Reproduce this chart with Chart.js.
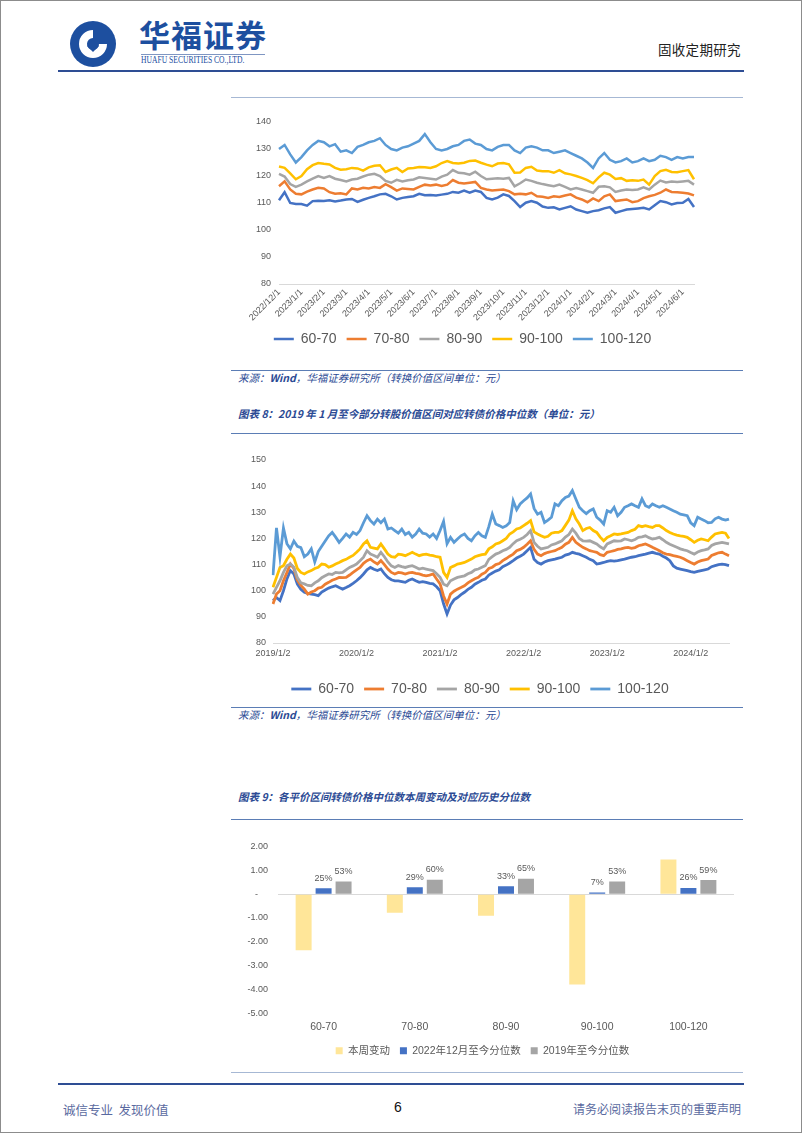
<!DOCTYPE html>
<html>
<head>
<meta charset="utf-8">
<script src="https://cdn.jsdelivr.net/npm/chart.js@4.4.0/dist/chart.umd.min.js"></script>
<style>
  body { margin: 0; background: #fff; }
  #page { position: relative; width: 802px; height: 1133px; border: 1px solid #8c8c8c; box-sizing: border-box; overflow: hidden; font-family: "Noto Sans CJK SC", "Liberation Sans", sans-serif; }
  .abs { position: absolute; }
  .hline { position: absolute; height: 0; }
  .src { position: absolute; left: 237px; font-size: 10.5px; line-height: 12px; font-style: italic; color: #2b4a94; white-space: nowrap; }
  .ttl { position: absolute; left: 237px; font-size: 10.5px; line-height: 12px; font-style: italic; font-weight: bold; color: #2b4a94; white-space: nowrap; }
  canvas { position: absolute; }
</style>
</head>
<body>
<div id="page">
  <!-- header -->
  <svg class="abs" style="left:68px;top:19px" width="48" height="48" viewBox="0 0 48 48">
    <circle cx="24" cy="24" r="23" fill="#1d4f9f"/>
    <path d="M24 10 A14 14 0 1 0 38 24 L30 24 A6 6 0 1 1 24 18 Z" fill="#fff"/>
    <path d="M24 20 L30 26 L24 32 L18 26 Z" fill="#1d4f9f"/>
  </svg>
  <div class="abs" style="left:138px;top:14px;font-size:31px;font-weight:bold;color:#1d4f9f;letter-spacing:1px;line-height:38px">华福证券</div>
  <div class="hline" style="left:140px;top:53px;width:124px;border-top:1px solid #7f96c2"></div>
  <div class="abs" style="left:140px;top:54px;font-family:'Liberation Serif',serif;font-size:9.5px;color:#1d4f9f;white-space:nowrap;transform:scaleX(0.8);transform-origin:left top">HUAFU SECURITIES CO.,LTD.</div>
  <div class="abs" style="left:657px;top:38px;font-size:13.5px;color:#222;letter-spacing:0.3px">固收定期研究</div>
  <div class="hline" style="left:57px;top:69px;width:686px;border-top:2px solid #2e4d94"></div>

  <div class="hline" style="left:230px;top:96px;width:512px;border-top:1px solid #a6b8d4"></div>

  <canvas id="chart1" class="abs" style="left:230px;top:100px" width="480" height="255"></canvas>
  <div class="hline" style="left:230px;top:369px;width:512px;border-top:1.5px solid #5b7db5"></div>
  <div class="src" style="top:371px">来源：<b>Wind</b>，华福证券研究所（转换价值区间单位：元）</div>

  <div class="ttl" style="top:407px">图表 8：2019 年 1 月至今部分转股价值区间对应转债价格中位数（单位：元）</div>
  <div class="hline" style="left:230px;top:432px;width:512px;border-top:1.5px solid #5b7db5"></div>
  <canvas id="chart2" class="abs" style="left:230px;top:440px" width="510" height="265"></canvas>
  <div class="hline" style="left:230px;top:706px;width:512px;border-top:1.5px solid #5b7db5"></div>
  <div class="src" style="top:708px">来源：<b>Wind</b>，华福证券研究所（转换价值区间单位：元）</div>

  <div class="ttl" style="top:790px">图表 9：各平价区间转债价格中位数本周变动及对应历史分位数</div>
  <div class="hline" style="left:230px;top:818px;width:512px;border-top:1.5px solid #5b7db5"></div>
  <canvas id="chart3" class="abs" style="left:230px;top:830px" width="512" height="235"></canvas>

  <!-- footer -->
  <div class="hline" style="left:230px;top:1071px;width:512px;border-top:1px solid #a6b8d4"></div>
  <div class="hline" style="left:57px;top:1082px;width:686px;border-top:2px solid #2e4d94"></div>
  <div class="abs" style="left:62px;top:1099px;font-size:12.5px;color:#5a6aa0;white-space:nowrap">诚信专业&nbsp;&nbsp;发现价值</div>
  <div class="abs" style="left:393px;top:1098px;font-family:'Liberation Sans',sans-serif;font-size:14px;color:#111">6</div>
  <div class="abs" style="right:60px;top:1099px;font-size:12px;color:#5a6aa0;white-space:nowrap">请务必阅读报告末页的重要声明</div>
</div>

<script>
// Chart 1: 2022/12 to date, weekly readings
const months1 = ['2022/12/1', '2023/1/1', '2023/2/1', '2023/3/1', '2023/4/1', '2023/5/1', '2023/6/1',
  '2023/7/1', '2023/8/1', '2023/9/1', '2023/10/1', '2023/11/1', '2023/12/1', '2024/1/1', '2024/2/1',
  '2024/3/1', '2024/4/1', '2024/5/1', '2024/6/1'];

const c1_60_70 = [111, 114, 110, 109.6, 109.6, 109, 110.7, 110.8, 110.7, 111, 110.6, 110.9,
  111.3, 111.5, 110.4, 111.2, 111.9, 112.5, 113.2, 113.4, 112.5, 111.3, 111.9, 112.2,
  112.5, 113.4, 112.9, 113, 112.8, 113.1, 113.4, 114.1, 113.8, 114.6, 113.8, 114.6,
  114.1, 111.9, 111.3, 112, 113.2, 112.6, 110.7, 108.5, 110.1, 110.7, 110.1, 108.7,
  108.2, 108.4, 107.6, 108.2, 108.8, 107.6, 107, 106.4, 107, 107.3, 108, 108.5,
  106.4, 107, 107.6, 107.8, 108, 108.2, 107.6, 109.2, 110.7, 110.3, 109.5, 110,
  110.1, 111.5, 108.5];
const c1_70_80 = [116.2, 118, 115, 113.4, 113.2, 114.2, 115, 115.6, 115.4, 114, 113.4, 113.6,
  113.2, 115.4, 115, 115.6, 115.4, 115.9, 115.6, 117, 115.9, 114.6, 115.4, 115.2,
  115, 116, 116.8, 116.5, 116.8, 116.3, 116.8, 118.5, 117.5, 117.2, 117.5, 117.8,
  115.6, 115, 114.6, 114.8, 115, 114.4, 113.2, 113.4, 113.2, 113.8, 112.5, 112.3,
  111.9, 112.5, 112.2, 112.8, 113.2, 112, 111.3, 110.3, 111.7, 110.7, 112.5, 113.2,
  110.7, 111, 111.3, 110.3, 110.7, 111.8, 112.5, 113, 113.8, 115, 114.1, 114,
  113.8, 113.5, 112.8];
const c1_80_90 = [120.8, 119.8, 117, 116, 116.8, 118, 119, 120, 119.3, 120, 119, 118.5,
  118, 118.7, 119, 119.8, 120.5, 120.8, 120, 118.2, 117.5, 118.6, 118, 118.4,
  118.7, 119.5, 119.3, 119, 118.7, 119.8, 120.5, 122.2, 121.2, 121, 120.5, 121.6,
  120, 118.8, 119, 119.2, 119, 119.3, 116.2, 117.3, 118.7, 118.2, 117.5, 117,
  116.6, 116.2, 116.8, 116, 115, 115.5, 115, 114.4, 113.8, 116, 116.2, 115.8,
  114.1, 114.6, 115, 114.8, 115, 115.8, 115, 116.8, 118.3, 117.6, 118, 117.8,
  118, 118.2, 116.8];
const c1_90_100 = [123.5, 123, 121, 118.8, 120, 122.5, 124, 124.8, 124.5, 124.3, 123, 122.3,
  122.5, 123, 122.8, 122, 123.2, 123.8, 124, 121.5, 122.4, 123, 121.5, 122.8,
  123, 123.3, 123.2, 123, 123.6, 124.8, 125.5, 124.8, 124.6, 124.9, 125.6, 125.7,
  124.9, 124.2, 123.6, 124.6, 124.8, 124.3, 121.2, 121.3, 123, 123.4, 122, 121.8,
  121.8, 121.2, 122.2, 121, 120.6, 120, 119.3, 118.5, 117.3, 119.5, 121.2, 120.5,
  118.9, 119.2, 118.2, 118.4, 118.2, 118.7, 116.8, 120, 121.8, 122.3, 121.5, 121.4,
  121.8, 122.2, 118.8];
const c1_100_120 = [130, 131.5, 128, 125, 127, 129.5, 131.5, 133, 132.5, 131, 131.8, 129,
  129.5, 128.5, 130.8, 131.5, 132.5, 133, 134, 131.5, 130, 129.5, 130.5, 131,
  132, 133, 135.5, 132.5, 130, 129.5, 130, 131, 131.5, 133, 133.5, 132,
  131.5, 130, 129.5, 130.8, 131.5, 131.5, 129.5, 128.5, 130.5, 131, 130.5, 129.5,
  129.5, 128.5, 129, 129.5, 128.5, 127.5, 126.5, 125, 123, 126.5, 128.5, 126,
  125, 125.5, 126.5, 125, 125.5, 126.5, 125.5, 126, 127.5, 127, 126, 127,
  126.5, 127, 127];

// Chart 2: 2019/1 to date, half-month readings
const years2 = ['2019/1/2', '2020/1/2', '2021/1/2', '2022/1/2', '2023/1/2', '2024/1/2'];

const c2_60_70 = [96.2, 97.4, 96.2, 100, 104.5, 107.7, 106.4, 102.5, 100.5, 99.4, 99, 98.7,
  98.5, 98.1, 99.5, 100.3, 101, 101.5, 101.9, 101.2, 100.6, 101.2, 101.9, 102.8,
  103.8, 105, 106.4, 108, 108.9, 108.2, 107.7, 108.3, 106.5, 105.1, 104.2, 103.8,
  103.8, 103.5, 103.2, 104, 104.5, 103.8, 103.2, 103.5, 103.2, 102.8, 102.6, 101.5,
  100, 95, 91.1, 94.5, 96.5, 97.4, 98.5, 99.4, 100.5, 101.3, 102.5, 103.2,
  104, 104.5, 106, 106.8, 107.5, 108, 109.2, 109.8, 110.6, 111.5, 112.5, 113.2,
  114, 115.3, 116.6, 112, 110.8, 110.2, 111, 111.5, 111.8, 112.1, 112.5, 112.8,
  113.6, 114, 114.7, 114.3, 114, 113.4, 112.8, 112, 111.5, 110.2, 110.5, 110.8,
  111.2, 111.5, 111.3, 111.5, 111.8, 112.1, 112.5, 112.8, 113, 113.4, 113.7, 114,
  114.4, 114.7, 114.3, 114, 113.2, 112.5, 111.5, 109.5, 108.6, 108.3, 108, 107.7,
  107.3, 107, 107.4, 107.7, 108, 108.3, 109.2, 109.6, 110, 110.2, 110, 109.6];
const c2_70_80 = [94.9, 98.7, 100, 103.8, 107, 110.2, 108.5, 104, 102, 100.6, 98.7, 99.5,
  100, 101, 101.3, 102.5, 103.2, 104, 104.5, 105.1, 105, 105.1, 106, 107,
  108, 108.9, 110.5, 111.5, 112.1, 111, 110.2, 111.5, 110, 108.3, 107, 106.4,
  107, 106.8, 106.4, 106.8, 107, 106.6, 106.4, 106, 105.7, 106, 106.4, 104.5,
  102.6, 98, 94.9, 98.7, 99.8, 100.6, 101.2, 101.9, 103, 103.8, 104.6, 105.1,
  106.3, 107, 108.5, 109, 110, 110.4, 111.5, 112.3, 113.2, 114, 115.3, 115.8,
  116.6, 117.8, 119.1, 115.8, 114, 113.4, 114.2, 114.7, 115, 115.3, 116, 116.6,
  117.8, 118.5, 120.4, 118.5, 117.5, 116.6, 116, 115.3, 115, 114.7, 113.8, 113.4,
  114.7, 115, 115.3, 115.8, 116, 116.4, 116.6, 116.2, 116.5, 117.2, 117.5, 117.9,
  117.3, 116.6, 116, 115.3, 114.5, 114, 113.8, 113.4, 113.1, 112.8, 112.2, 111.5,
  110.8, 110.2, 111, 111.5, 111.8, 112.1, 113.5, 114, 114.5, 114.7, 114, 113.4];
const c2_80_90 = [98.7, 101.3, 103.8, 107, 109.5, 110.2, 109, 105, 103, 102.6, 102, 101.9,
  103, 103.8, 105, 105.7, 106.4, 106.2, 107, 106.8, 107, 108, 108.9, 109.5,
  110.2, 111.5, 112.8, 115.3, 114, 113.5, 112.8, 114.7, 113, 111, 109.5, 108.9,
  109.6, 109.2, 108.9, 109.3, 109.6, 109, 108.3, 108.6, 108.3, 108, 107.7, 106.5,
  105.1, 102.5, 101.9, 103.8, 104.5, 105.1, 105.4, 105.7, 106.5, 107, 108, 108.3,
  109, 109.6, 112, 113, 114, 114.5, 115.3, 115.8, 116.6, 118, 119.1, 119.7,
  120.4, 121.5, 123, 118.5, 117, 116, 116.3, 116.6, 117.5, 117.9, 118.5, 119.1,
  120.5, 121.5, 123.6, 122, 120, 119.1, 119, 119.1, 118.5, 117.9, 116.8, 116,
  117.9, 118.5, 119.1, 119, 119.1, 119.8, 119.5, 119.1, 119.6, 120.4, 120.6, 121,
  120.3, 119.8, 120, 120.4, 119.5, 118.5, 117.8, 117.2, 116.6, 116, 115.6, 115.3,
  114.6, 114, 114.8, 115.3, 115.6, 116, 117.3, 117.9, 118.2, 118.5, 118.2, 117.9];
const c2_90_100 = [101.3, 105.1, 108.9, 109.6, 112, 114, 112.5, 108.5, 107, 106.4, 107.2, 107.7,
  108.5, 109, 110.2, 110, 109, 109.5, 110.2, 110.8, 111.5, 112, 112.8, 113.5,
  114.7, 116, 117.9, 119.1, 116.6, 116.3, 116, 117.9, 116, 114, 113, 112.8,
  114, 113.8, 113.4, 114, 114.7, 114, 113.4, 113.8, 114, 113.6, 113.4, 113,
  112.8, 107, 105.1, 108.9, 109.5, 110.2, 110.5, 110.8, 111.5, 112.1, 113, 113.4,
  113.8, 114, 116, 116.8, 117.9, 118.3, 119.1, 120, 121.7, 122.5, 123.6, 124,
  124.9, 125.8, 126.8, 122.5, 121.7, 121, 120.4, 120.8, 122, 122.3, 122.3, 123,
  125, 127, 130.6, 127.5, 125.5, 123, 123.8, 124.2, 123, 122.3, 120.5, 119.1,
  120.4, 121, 121.7, 121.5, 121.7, 122, 122.3, 123, 123.5, 124.9, 124.5, 124.9,
  124.5, 124.2, 124.9, 124.9, 124, 123, 122.3, 121.7, 121.3, 121, 120.8, 120.4,
  119.5, 118.5, 119.3, 119.8, 119.5, 119.1, 120.5, 121.7, 122, 122.3, 122, 120];
const c2_100_120 = [106, 124, 113, 124, 118, 116, 119, 117, 116.5, 113, 114, 116,
  111, 115, 117, 119, 121, 122.3, 120.5, 118.5, 120, 121.7, 120.5, 122.3,
  121.5, 123, 126, 128.7, 126.8, 125.5, 127.4, 126, 127.4, 123.6, 124, 123,
  122, 123.6, 121.5, 122.3, 120.5, 121.7, 123.6, 122, 121.7, 120.5, 121.7, 120,
  123, 126.5, 118, 120.4, 118.5, 119.8, 121, 121.7, 120, 119.1, 121, 122.3,
  121, 120.4, 124.5, 129.3, 125.5, 124.9, 124.2, 124.8, 126.1, 134.4, 131, 133.2,
  134.4, 135.5, 137, 131.5, 129.3, 130, 126.1, 127, 128.1, 133.2, 132.5, 134.4,
  135.7, 136.2, 138.3, 135.1, 131.9, 130.6, 129.5, 130.6, 131.3, 128.1, 127, 125.5,
  130.6, 130, 131.9, 128.7, 130, 131.9, 132.5, 133.2, 132.5, 131.9, 135.1, 132.5,
  131.9, 133.2, 132.5, 131.9, 132.5, 131.9, 131.3, 130.6, 130, 129.3, 129, 128.7,
  126, 124.9, 128.1, 127.4, 126.8, 126, 126.1, 127.5, 128.1, 127.4, 127, 127.4];

// Chart 3: weekly change and percentiles
const buckets = ['60-70', '70-80', '80-90', '90-100', '100-120'];
const weekChange = [-2.35, -0.78, -0.9, -3.78, 1.45];
const pct2022 = [25, 29, 33, 7, 26];
const pct2019 = [53, 60, 65, 53, 59];

const seriesNames = ['60-70', '70-80', '80-90', '90-100', '100-120'];
const seriesColors = ['#4472c4', '#ed7d31', '#a5a5a5', '#ffc000', '#5b9bd5'];

Chart.defaults.font.family = '"Liberation Sans", "Noto Sans CJK SC", sans-serif';
Chart.defaults.color = '#595959';

// Build line datasets, later series drawn on top like the source
function lineSets(seriesList, width) {
  return seriesList.map(function (data, i) {
    return {
      label: seriesNames[i],
      data: data,
      borderColor: seriesColors[i],
      backgroundColor: seriesColors[i],
      borderWidth: width,
      pointRadius: 0,
      tension: 0,
      order: seriesList.length - i,
    };
  });
}

function lineLegend() {
  return {
    position: 'bottom',
    labels: {
      usePointStyle: true,
      pointStyle: 'line',
      pointStyleWidth: 20,
      font: { size: 14 },
      color: '#595959',
      padding: 10,
      sort: function (a, b) { return a.datasetIndex - b.datasetIndex; },
    },
  };
}

// Chart 1
new Chart(document.getElementById('chart1'), {
  type: 'line',
  data: {
    labels: c1_60_70.map(function (_, i) { return i; }),
    datasets: lineSets([c1_60_70, c1_70_80, c1_80_90, c1_90_100, c1_100_120], 2.5),
  },
  options: {
    responsive: false,
    animation: false,
    layout: { padding: { top: 21, right: 17, left: 0, bottom: 0 } },
    plugins: { legend: lineLegend(), tooltip: { enabled: false } },
    scales: {
      x: {
        grid: { display: false, drawTicks: false },
        border: { color: '#d9d9d9' },
        ticks: {
          autoSkip: false, minRotation: 45, maxRotation: 45, padding: 3,
          font: { size: 9 },
          callback: function (v, i) { return i % 4 === 0 ? months1[i / 4] : ''; },
        },
        afterFit: function (s) { s.height = 38; },
      },
      y: {
        min: 80, max: 140,
        grid: { display: false, drawTicks: false },
        border: { display: false },
        ticks: { stepSize: 10, padding: 8, font: { size: 9 } },
        afterFit: function (s) { s.width = 48; },
      },
    },
  },
});

// Chart 2
new Chart(document.getElementById('chart2'), {
  type: 'line',
  data: {
    labels: c2_60_70.map(function (_, i) { return i; }),
    datasets: lineSets([c2_60_70, c2_70_80, c2_80_90, c2_90_100, c2_100_120], 2.8),
  },
  options: {
    responsive: false,
    animation: false,
    layout: { padding: { top: 19, right: 12, left: 0, bottom: 0 } },
    plugins: { legend: lineLegend(), tooltip: { enabled: false } },
    scales: {
      x: {
        grid: { display: false, drawTicks: false },
        border: { color: '#d9d9d9' },
        ticks: {
          autoSkip: false, minRotation: 0, maxRotation: 0, padding: 5,
          font: { size: 9 },
          callback: function (v, i) { return i % 24 === 0 ? years2[i / 24] : ''; },
        },
        afterFit: function (s) { s.height = 29; },
      },
      y: {
        min: 80, max: 150,
        grid: { display: false, drawTicks: false },
        border: { display: false },
        ticks: { stepSize: 10, padding: 7, font: { size: 9 } },
        afterFit: function (s) { s.width = 42; },
      },
    },
  },
});

// Percent labels over the percentile bars
const barLabels = {
  id: 'barLabels',
  afterDatasetsDraw: function (chart) {
    const ctx = chart.ctx;
    ctx.save();
    ctx.font = '9px "Liberation Sans", sans-serif';
    ctx.fillStyle = '#595959';
    ctx.textAlign = 'center';
    ctx.textBaseline = 'middle';
    [[1, pct2022], [2, pct2019]].forEach(function (pair) {
      chart.getDatasetMeta(pair[0]).data.forEach(function (bar, i) {
        ctx.fillText(pair[1][i] + '%', bar.x, bar.y - 10);
      });
    });
    ctx.restore();
  },
};

// Chart 3
new Chart(document.getElementById('chart3'), {
  type: 'bar',
  data: {
    labels: buckets,
    datasets: [
      { label: '本周变动', data: weekChange, backgroundColor: '#ffe699' },
      { label: '2022年12月至今分位数', data: pct2022.map(function (p) { return p / 100; }), backgroundColor: '#4472c4' },
      { label: '2019年至今分位数', data: pct2019.map(function (p) { return p / 100; }), backgroundColor: '#a5a5a5' },
    ],
  },
  options: {
    responsive: false,
    animation: false,
    categoryPercentage: 0.657,
    barPercentage: 0.8,
    layout: { padding: { top: 15, right: 9, left: 0, bottom: 0 } },
    plugins: {
      legend: {
        position: 'bottom',
        labels: { boxWidth: 7, boxHeight: 7, padding: 10, font: { size: 10.5 }, color: '#595959' },
      },
      tooltip: { enabled: false },
    },
    scales: {
      x: {
        grid: { display: false, drawTicks: false },
        border: { display: false },
        ticks: { padding: 7, font: { size: 10.5 } },
        afterFit: function (s) { s.height = 22; },
      },
      y: {
        min: -5, max: 2,
        grid: {
          drawTicks: false,
          color: function (c) { return c.tick && c.tick.value === 0 ? '#d9d9d9' : 'rgba(0,0,0,0)'; },
        },
        border: { display: false },
        ticks: {
          stepSize: 1, padding: 10, font: { size: 9 },
          callback: function (v) { return v === 0 ? '-    ' : v.toFixed(2); },
        },
        afterFit: function (s) { s.width = 47; },
      },
    },
  },
  plugins: [barLabels],
});
</script>
</body>
</html>
